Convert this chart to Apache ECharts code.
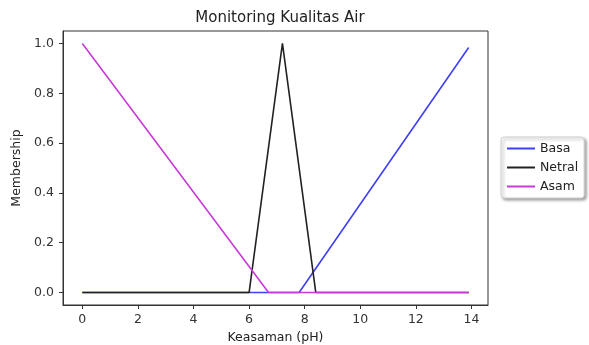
<!DOCTYPE html>
<html>
<head>
<meta charset="utf-8">
<script src="https://cdn.jsdelivr.net/npm/echarts@6/dist/echarts.min.js"></script>
<style>
    html, body { margin: 0; padding: 0; background: #fff; }
    #chart { width: 589px; height: 345px; }
</style>
</head>
<body>
<div id="chart"></div>
<script>
    // vertices of the membership functions [pH, membership]
    const basa = [[0, 0], [7.8, 0], [13.9, 0.984]];
    const netral = [[0, 0], [6.0, 0], [7.2, 1.0], [8.4, 0], [13.9, 0]];
    const asam = [[0, 1.0], [6.7, 0], [13.9, 0]];
    const xTicks = [0, 2, 4, 6, 8, 10, 12, 14];
    const yTicks = [0, 0.2, 0.4, 0.6, 0.8, 1.0];
    const seriesNames = ["Basa", "Netral", "Asam"];

    const font = "DejaVu Sans";
    let chart = echarts.init(document.getElementById("chart"), null, {renderer: "canvas"});
    let option = {
        animation: false,
        title: {
            text: "Monitoring Kualitas Air",
            left: 275,
            top: 6,
            textAlign: "center",
            textStyle: {fontFamily: font, fontSize: 15, fontWeight: "normal", color: "#222"},
        },
        grid: {
            left: 63, top: 31, width: 425, height: 274,
            outerBoundsMode: "none",
            show: true, borderColor: "#333", borderWidth: 1, backgroundColor: "#fff",
        },
        legend: {
            orient: "vertical",
            left: 501, top: 137,
            data: seriesNames.map(n => ({name: n, icon: "rect"})),
            itemWidth: 28, itemHeight: 2, itemGap: 6,
            padding: [5, 6, 5, 6],
            backgroundColor: "#fff",
            borderColor: "#ccc", borderWidth: 1, borderRadius: 3,
            shadowBlur: 3, shadowColor: "rgba(0,0,0,0.35)", shadowOffsetX: 2, shadowOffsetY: 2,
            textStyle: {fontFamily: font, fontSize: 12.5, color: "#222"},
        },
        xAxis: {
            type: "value",
            min: -0.695, max: 14.595,
            name: "Keasaman (pH)",
            nameLocation: "middle",
            nameGap: 26,
            nameTextStyle: {fontFamily: font, fontSize: 12.5, color: "#222"},
            splitLine: {show: false},
            axisLine: {show: true, onZero: false, lineStyle: {color: "#333"}},
            axisTick: {show: true, length: 4, customValues: xTicks, lineStyle: {color: "#333"}},
            axisLabel: {customValues: xTicks, fontFamily: font, fontSize: 12.5, color: "#333", margin: 8},
        },
        yAxis: {
            type: "value",
            min: -0.05, max: 1.05,
            name: "Membership",
            nameLocation: "middle",
            nameGap: 30,
            nameTextStyle: {fontFamily: font, fontSize: 12.5, color: "#222"},
            splitLine: {show: false},
            axisLine: {show: true, onZero: false, lineStyle: {color: "#333"}},
            axisTick: {show: true, length: 4, customValues: yTicks, lineStyle: {color: "#333"}},
            axisLabel: {
                customValues: yTicks, fontFamily: font, fontSize: 12.5, color: "#333", margin: 9,
                formatter: v => v.toFixed(1),
            },
        },
        series: [
            {name: "Basa", type: "line", data: basa, showSymbol: false, symbol: "none",
                color: "#3f3ff8", lineStyle: {color: "#3f3ff8", width: 1.6}},
            {name: "Netral", type: "line", data: netral, showSymbol: false, symbol: "none",
                color: "#222", lineStyle: {color: "#222", width: 1.6}},
            {name: "Asam", type: "line", data: asam, showSymbol: false, symbol: "none",
                color: "#c83ad8", lineStyle: {color: "#c83ad8", width: 1.6}},
        ],
    };
    chart.setOption(option);
</script>
</body>
</html>
